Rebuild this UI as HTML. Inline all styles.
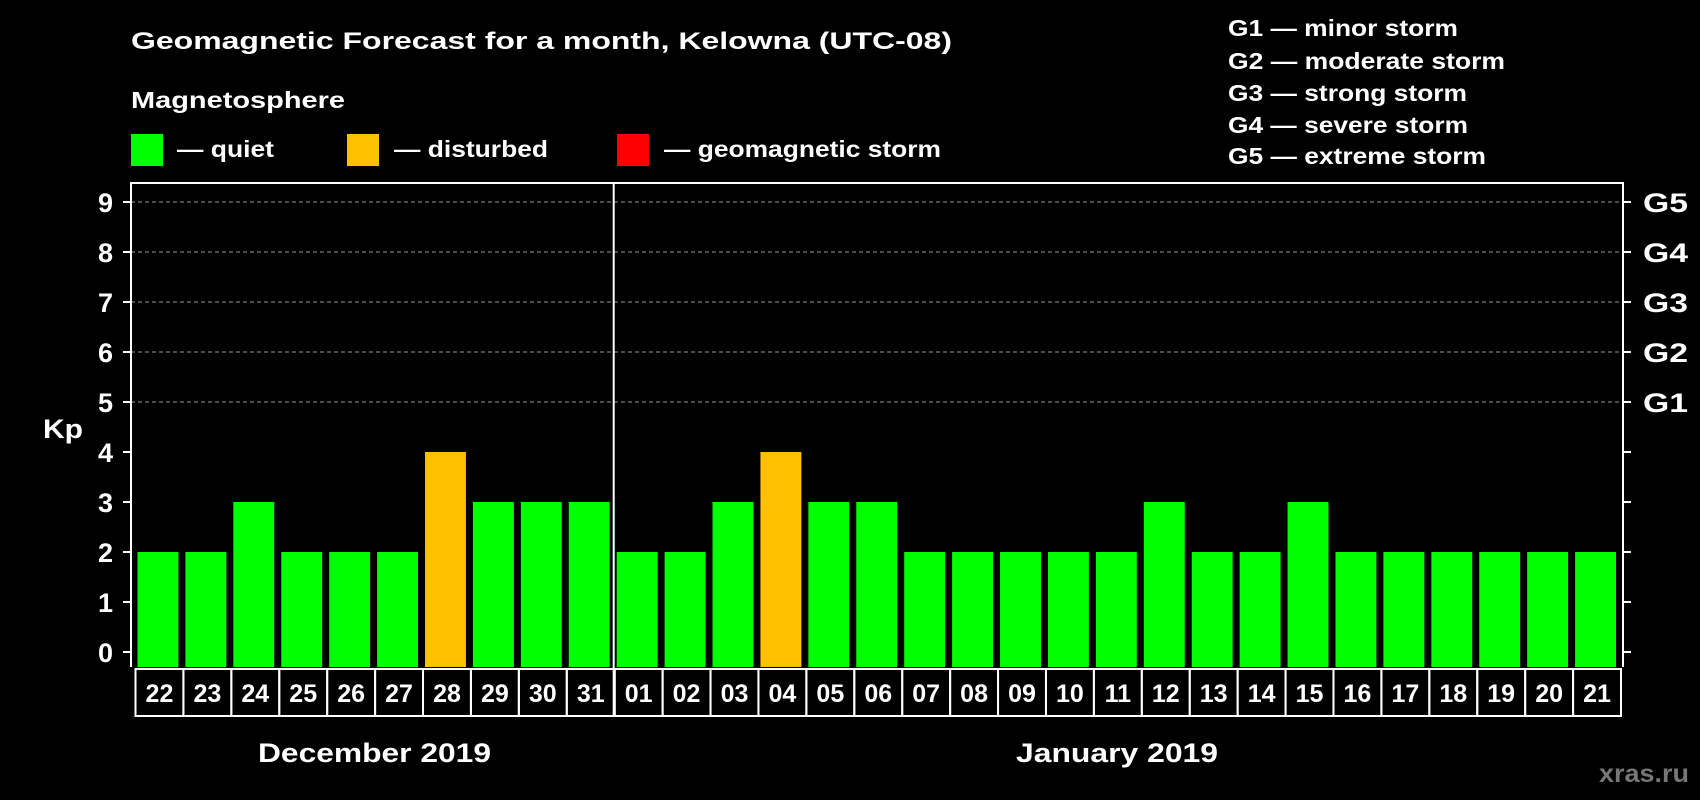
<!DOCTYPE html>
<html><head><meta charset="utf-8"><style>
html,body{margin:0;padding:0;background:#000;}
svg{display:block;font-family:"Liberation Sans",Arial,sans-serif;font-weight:bold;}
</style></head><body>
<svg id="chart" width="1700" height="800" viewBox="0 0 1700 800">
<rect x="0" y="0" width="1700" height="800" fill="#000"/>
<text x="131" y="49" fill="#fff" font-size="24" textLength="821" lengthAdjust="spacingAndGlyphs">Geomagnetic Forecast for a month, Kelowna (UTC-08)</text>
<text x="131" y="108" fill="#fff" font-size="23" textLength="214" lengthAdjust="spacingAndGlyphs">Magnetosphere</text>
<g><rect x="131" y="134" width="32" height="32" fill="#00ff00"/><text x="177" y="157" fill="#fff" font-size="23" textLength="97" lengthAdjust="spacingAndGlyphs">— quiet</text></g>
<g><rect x="347" y="134" width="32" height="32" fill="#ffc000"/><text x="394" y="157" fill="#fff" font-size="23" textLength="154" lengthAdjust="spacingAndGlyphs">— disturbed</text></g>
<g><rect x="617" y="134" width="32" height="32" fill="#ff0000"/><text x="664" y="157" fill="#fff" font-size="23" textLength="277" lengthAdjust="spacingAndGlyphs">— geomagnetic storm</text></g>
<g fill="#fff" font-size="23">
<text x="1228" y="36" textLength="230" lengthAdjust="spacingAndGlyphs">G1 — minor storm</text>
<text x="1228" y="69" textLength="277" lengthAdjust="spacingAndGlyphs">G2 — moderate storm</text>
<text x="1228" y="101" textLength="239" lengthAdjust="spacingAndGlyphs">G3 — strong storm</text>
<text x="1228" y="133" textLength="240" lengthAdjust="spacingAndGlyphs">G4 — severe storm</text>
<text x="1228" y="164" textLength="258" lengthAdjust="spacingAndGlyphs">G5 — extreme storm</text>
</g>
<text x="43" y="438" fill="#fff" font-size="27" textLength="40" lengthAdjust="spacingAndGlyphs">Kp</text>
<text x="258" y="762" fill="#fff" font-size="27" textLength="233" lengthAdjust="spacingAndGlyphs">December 2019</text>
<text x="1016" y="762" fill="#fff" font-size="27" textLength="202" lengthAdjust="spacingAndGlyphs">January 2019</text>
<text x="1599" y="782" fill="#777" font-size="25" textLength="90" lengthAdjust="spacingAndGlyphs">xras.ru</text>
<g id="plot"></g>
</svg>
<script>
const days = ["22","23","24","25","26","27","28","29","30","31","01","02","03","04","05","06","07","08","09","10","11","12","13","14","15","16","17","18","19","20","21"];
const kpValues = [2,2,3,2,2,2,4,3,3,3,2,2,3,4,3,3,2,2,2,2,2,3,2,2,3,2,2,2,2,2,2];
const yTicks = [0,1,2,3,4,5,6,7,8,9];
const gLabels = ["G1","G2","G3","G4","G5"];
const gLevels = [5,6,7,8,9];
const dividerIndex = 10;

(function(){
const NS="http://www.w3.org/2000/svg";
const plot=document.getElementById('plot');
const pL=131,pR=1623,pT=183,pB=667,barsL=135.5,barsR=1621;
const y0=652,unit=50;
const n=days.length, slot=(barsR-barsL)/n;
function yS(v){return y0-v*unit;}
function xS(i){return barsL+i*slot;}
function mk(tag,attrs){const e=document.createElementNS(NS,tag);for(const k in attrs)e.setAttribute(k,attrs[k]);plot.appendChild(e);return e;}
yTicks.forEach(t=>{
  if(t>=5){const g=mk('line',{x1:pL,x2:pR,y1:yS(t),y2:yS(t),stroke:'#999','stroke-dasharray':'4,3','stroke-width':1});
  
  }
  const tl=mk('line',{x1:pL-8,x2:pL,y1:yS(t),y2:yS(t),stroke:'#fff','stroke-width':2});
  
  
  const tr=mk('line',{x1:pR,x2:pR+8,y1:yS(t),y2:yS(t),stroke:'#fff','stroke-width':2});
  
  
  const lb=mk('text',{x:113,y:yS(t)+10,fill:'#fff','font-size':27,'text-anchor':'end'});
  lb.textContent=t;
  
  
});
gLabels.forEach((g,i)=>{
  const t=mk('text',{x:1643,y:yS(gLevels[i])+10,fill:'#fff','font-size':27,textLength:45,lengthAdjust:'spacingAndGlyphs'});
  t.textContent=g;
  
  
});
days.forEach((d,i)=>{
  const v=kpValues[i];
  const col=v>=5?'#ff0000':(v>=4?'#ffc000':'#00ff00');
  const b=mk('rect',{x:xS(i)+2,y:yS(v),width:slot-7,height:y0+15-yS(v),fill:col});
  
  
  const c=mk('rect',{x:xS(i),y:669,width:slot,height:47,fill:'none',stroke:'#fff','stroke-width':2});
  
  
  const t=mk('text',{x:xS(i)+slot/2,y:702,fill:'#fff','font-size':25,'text-anchor':'middle'});
  t.textContent=d;
  
  
});
const fr=mk('path',{d:`M${pL},${pB} L${pL},${pT} L${pR},${pT} L${pR},${pB}`,fill:'none',stroke:'#fff','stroke-width':2});


const dv=mk('line',{x1:xS(dividerIndex)-1,x2:xS(dividerIndex)-1,y1:pT,y2:716,stroke:'#fff','stroke-width':2});


})();
</script>
</body></html>
